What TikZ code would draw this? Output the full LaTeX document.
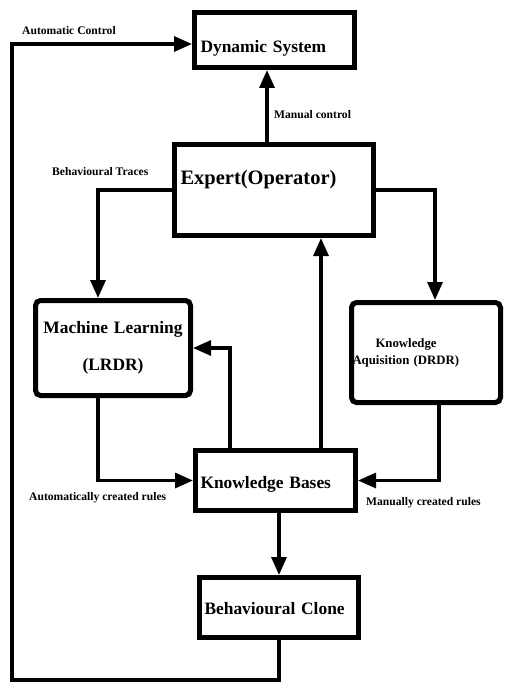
\documentclass[tikz,border=0pt]{standalone}
\usepackage{fontspec}
\setmainfont{Liberation Serif}
\usetikzlibrary{arrows.meta}

\begin{document}
\begin{tikzpicture}[x=1pt, y=-1pt,
    sysbox/.style={draw, line width=5pt, inner xsep=5pt, inner ysep=4pt, align=left,
      font=\bfseries\fontsize{17.4}{20}\selectfont},
    roundbox/.style={sysbox, rounded corners=5pt},
    conn/.style={line width=3.2pt, -{Triangle[length=18pt,width=15pt]}},
    tag/.style={inner sep=0pt, anchor=west, font=\bfseries\fontsize{11.6}{13}\selectfont}]
  \useasboundingbox (0,0) rectangle (505,682);
  % boxes
  \node[sysbox, minimum width=160pt, minimum height=55pt, text width=148pt,
        text height=36pt, text depth=11pt, inner xsep=6pt] (dyn) at (274.5,40) {Dynamic System};
  \node[sysbox, minimum width=199pt, minimum height=91pt, text width=187pt,
        text height=36pt, text depth=47pt, inner xsep=6pt,
        font=\bfseries\fontsize{20.5}{24}\selectfont] (expert) at (274,190) {Expert(Operator)};
  \node[roundbox, minimum width=155pt, minimum height=95pt, text width=147pt, align=center,
        inner xsep=4pt, font=\bfseries\fontsize{17.4}{37}\selectfont] (ml) at (113,348)
        {Machine Learning\\(LRDR)};
  \node[roundbox, minimum width=149pt, minimum height=100pt, text width=147pt, inner xsep=1pt,
        font=\bfseries\fontsize{12.8}{17}\selectfont] (ka) at (426,352.5)
        {\hspace*{23pt}Knowledge\\Aquisition (DRDR)};
  \node[sysbox, minimum width=160pt, minimum height=60pt, text width=150pt,
        text height=34pt, text depth=18pt] (kb) at (275.5,480.5) {Knowledge Bases};
  \node[sysbox, minimum width=159pt, minimum height=60pt, text width=149pt,
        text height=33pt, text depth=19pt] (bc) at (279,607.5) {Behavioural Clone};
  \coordinate (lowleft) at (12,680);
  % connectors
  \draw[conn] ([xshift=-7pt]expert.north) -- ([xshift=-7pt]expert.north |- dyn.south);
  \draw[conn] (expert.west) -| ([xshift=-15pt]ml.north);
  \draw[conn] (expert.east) -| ([xshift=9pt]ka.north);
  \draw[conn] ([xshift=-15pt]ml.south) |- (kb.west);
  \draw[conn] ([xshift=13pt]ka.south) |- (kb.east);
  \draw[conn] ([xshift=-45.5pt]kb.north) |- (ml.east);
  \draw[conn] ([xshift=45.5pt]kb.north) -- ([xshift=45.5pt]kb.north |- expert.south);
  \draw[conn] (kb.south -| bc.north) -- (bc.north);
  \draw[conn] (bc.south) |- (lowleft) |- ([yshift=-4pt]dyn.west);
  % labels
  \node[tag] (autoctl) at (22,31) {Automatic Control};
  \node[tag] (manctl) at (274,115) {Manual control};
  \node[tag] (traces) at (52,172) {Behavioural Traces};
  \node[tag] (autorules) at (29,498) {Automatically created rules};
  \node[tag] (manrules) at (366,503) {Manually created rules};
\end{tikzpicture}
\end{document}
